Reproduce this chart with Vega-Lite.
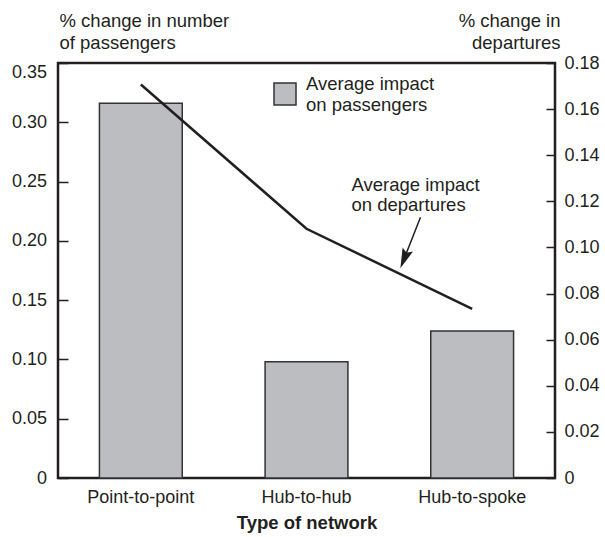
{
  "$schema": "https://vega.github.io/schema/vega-lite/v6.json",
  "width": 497,
  "height": 415,
  "autosize": {"type": "none"},
  "padding": {"left": 58, "top": 63, "right": 50, "bottom": 59},
  "background": "white",
  "config": {
    "font": "Liberation Sans",
    "view": {"stroke": "#231f20", "strokeWidth": 2.5},
    "axis": {
      "grid": false,
      "domain": false,
      "labelColor": "#231f20",
      "titleColor": "#231f20",
      "tickColor": "#231f20",
      "labelFontSize": 18,
      "titleFontSize": 18.5,
      "titleFontWeight": "normal"
    }
  },
  "datasets": {
    "passengers": [
      {"network": "Point-to-point", "pass": 0.316, "series": "Average impact on passengers"},
      {"network": "Hub-to-hub", "pass": 0.098, "series": "Average impact on passengers"},
      {"network": "Hub-to-spoke", "pass": 0.124, "series": "Average impact on passengers"}
    ],
    "departures": [
      {"network": "Point-to-point", "dep": 0.1707},
      {"network": "Hub-to-hub", "dep": 0.1081},
      {"network": "Hub-to-spoke", "dep": 0.0734}
    ],
    "note": [
      {"network": "Hub-to-hub", "dep": 0.1244, "label": "Average impact\non departures"}
    ],
    "arrow": [
      {"network": "Hub-to-hub", "dep": 0.1131, "dep2": 0.0955}
    ]
  },
  "layer": [
    {
      "data": {"name": "passengers"},
      "mark": {"type": "bar", "stroke": "#333335", "strokeWidth": 1.5},
      "encoding": {
        "x": {
          "field": "network",
          "type": "nominal",
          "sort": null,
          "scale": {"paddingInner": 0.5, "paddingOuter": 0.25},
          "axis": {
            "title": "Type of network",
            "titleFontWeight": "bold",
            "titleBaseline": "alphabetic",
            "titleY": 50.5,
            "labelAngle": 0,
            "ticks": false,
            "labelPadding": 10,
            "labelBaseline": "top"
          }
        },
        "y": {
          "field": "pass",
          "type": "quantitative",
          "scale": {"domain": [0, 0.35]},
          "axis": {
            "orient": "left",
            "title": ["% change in number", "of passengers"],
            "titleAngle": 0,
            "titleAlign": "left",
            "titleBaseline": "alphabetic",
            "titleX": 1,
            "titleY": -37,
            "titleLineHeight": 22,
            "values": [0, 0.05, 0.1, 0.15, 0.2, 0.25, 0.3, 0.35],
            "labelExpr": "datum.value == 0 ? '0' : format(datum.value, '.2f')",
            "tickSize": -10,
            "tickWidth": 1.5,
            "labelPadding": 21.5,
            "labelBaseline": {"condition": {"test": "datum.value > 0.34", "value": "top"}, "value": "middle"}
          }
        },
        "fill": {
          "field": "series",
          "type": "nominal",
          "scale": {"range": ["#bcbdc1"]},
          "legend": {
            "orient": "none",
            "legendX": 215,
            "legendY": 19,
            "title": null,
            "symbolType": "square",
            "symbolSize": 484,
            "symbolStrokeColor": "#333335",
            "symbolStrokeWidth": 1.5,
            "symbolOpacity": 1,
            "labelFontSize": 18.5,
            "labelColor": "#231f20",
            "labelOffset": 9,
            "labelLimit": 0,
            "labelBaseline": "bottom",
            "labelExpr": "['Average impact', 'on passengers']"
          }
        }
      }
    },
    {
      "layer": [
        {
          "data": {"name": "departures"},
          "mark": {"type": "line", "color": "#231f20", "strokeWidth": 2.5},
          "encoding": {
            "x": {"field": "network", "type": "nominal", "sort": null},
            "y": {
              "field": "dep",
              "type": "quantitative",
              "scale": {"domain": [0, 0.18]},
              "axis": {
                "orient": "right",
                "title": ["% change in", "departures"],
                "titleAngle": 0,
                "titleAlign": "right",
                "titleBaseline": "alphabetic",
                "titleX": 5,
                "titleY": -37,
                "titleLineHeight": 22,
                "values": [0, 0.02, 0.04, 0.06, 0.08, 0.1, 0.12, 0.14, 0.16, 0.18],
                "labelExpr": "datum.value == 0 ? '0' : format(datum.value, '.2f')",
                "tickSize": -9,
                "tickWidth": 1.5,
                "labelPadding": 18
              }
            }
          }
        },
        {
          "data": {"name": "note"},
          "mark": {"type": "text", "align": "left", "baseline": "alphabetic", "dx": 45, "fontSize": 18.5, "lineBreak": "\n", "lineHeight": 20, "color": "#231f20"},
          "encoding": {
            "x": {"field": "network", "type": "nominal", "sort": null},
            "y": {"field": "dep", "type": "quantitative"},
            "text": {"field": "label"}
          }
        },
        {
          "data": {"name": "arrow"},
          "mark": {"type": "rule", "color": "#231f20", "strokeWidth": 1.5, "xOffset": 114, "x2Offset": 98},
          "encoding": {
            "x": {"field": "network", "type": "nominal", "sort": null},
            "x2": {"field": "network"},
            "y": {"field": "dep", "type": "quantitative"},
            "y2": {"field": "dep2"}
          }
        },
        {
          "data": {"name": "arrow"},
          "mark": {"type": "point", "filled": true, "color": "#231f20", "opacity": 1, "shape": "M0,1L-0.5,-0.8L0,-0.5L0.5,-0.8Z", "size": 500, "angle": 21.8, "xOffset": 98},
          "encoding": {
            "x": {"field": "network", "type": "nominal", "sort": null},
            "y": {"field": "dep2", "type": "quantitative"}
          }
        }
      ]
    }
  ],
  "resolve": {"scale": {"y": "independent", "fill": "independent"}}
}
